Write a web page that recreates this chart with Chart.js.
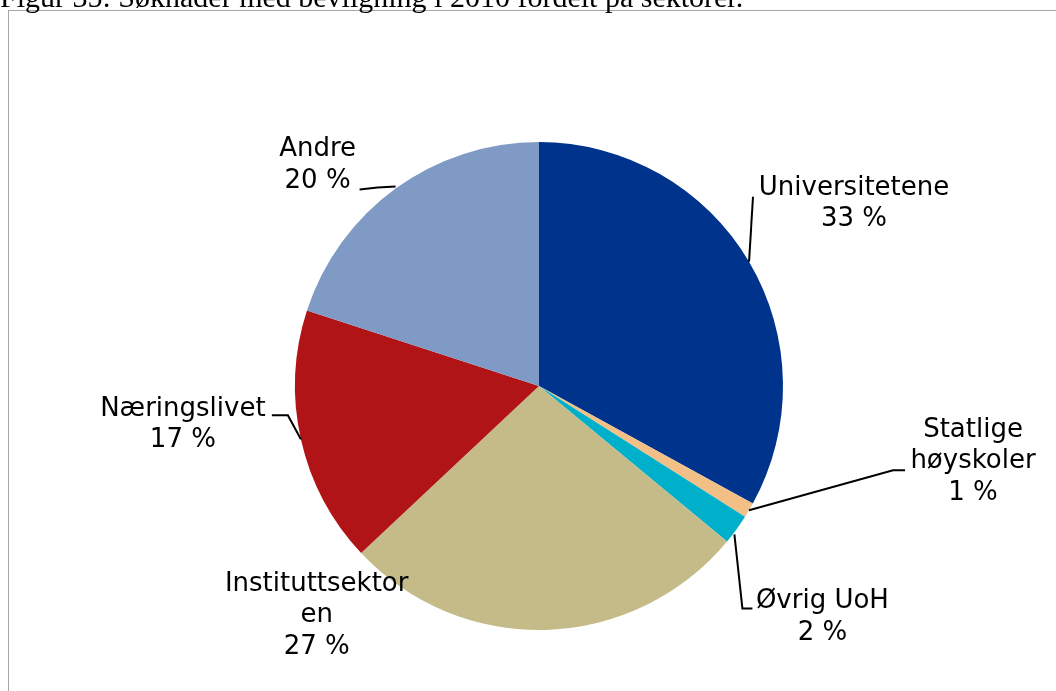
<!DOCTYPE html>
<html>
<head>
<meta charset="utf-8">
<script src="https://cdn.jsdelivr.net/npm/chart.js@4.4.1/dist/chart.umd.min.js"></script>
<style>
  body { margin: 0; background: #fff; overflow: hidden; }
  #frame {
    position: absolute; left: 8px; top: 10px; width: 1100px; height: 800px;
    border: 1px solid #a6a6a6;
  }
  #wrap { position: absolute; left: 0; top: 0; width: 1056px; height: 691px; }
</style>
</head>
<body>
<div id="frame"></div>
<div id="wrap"><canvas id="pieChart"></canvas></div>
<script>
    const figureTitle = 'Figur 35: Søknader med bevilgning i 2010 fordelt på sektorer.';
    const sectors = ['Universitetene', 'Statlige høyskoler', 'Øvrig UoH', 'Instituttsektoren', 'Næringslivet', 'Andre'];
    const sectorLines = [['Universitetene'], ['Statlige', 'høyskoler'], ['Øvrig UoH'], ['Instituttsektor', 'en'], ['Næringslivet'], ['Andre']];
    const shares = [33, 1, 2, 27, 17, 20];
    const colors = ['#00338c', '#f2c087', '#00b0ca', '#c4bb88', '#b11416', '#7f9ac5'];

    // label placement relative to the point where the slice's mid-angle meets the rim
    const labelOffset = [[105, -74], [224, -80], [86, 72], [-230, -46], [-118, -30], [-78, -39]];
    const leaderPath = [
        [[0, 0], [4, -65]],
        [[0, 0], [144, -40], [156, -40]],
        [[-2, 5], [6, 79], [16, 79]],
        [],
        [[0, 0], [-13, -24], [-29, -24]],
        [[0, -2], [-18, -1], [-36, 1]]
    ];

    const sliceLabels = {
        id: 'sliceLabels',
        afterDatasetsDraw(chart) {
            const c = chart.ctx;
            const arcs = chart.getDatasetMeta(0).data;
            c.save();
            c.font = '26px "DejaVu Sans", Verdana, sans-serif';
            c.fillStyle = '#000';
            c.strokeStyle = '#000';
            c.lineWidth = 2;
            c.textAlign = 'center';
            c.textBaseline = 'middle';
            arcs.forEach((arc, i) => {
                const mid = (arc.startAngle + arc.endAngle) / 2;
                const ex = arc.x + Math.cos(mid) * arc.outerRadius;
                const ey = arc.y + Math.sin(mid) * arc.outerRadius;
                const path = leaderPath[i];
                if (path.length) {
                    c.beginPath();
                    path.forEach((p, k) => {
                        if (k === 0) c.moveTo(ex + p[0], ey + p[1]);
                        else c.lineTo(ex + p[0], ey + p[1]);
                    });
                    c.stroke();
                }
                const lines = sectorLines[i].concat([shares[i] + ' %']);
                const tx = ex + labelOffset[i][0];
                const ty = ey + labelOffset[i][1];
                lines.forEach((t, k) => c.fillText(t, tx, ty + k * 31.5));
            });

            // caption runs off the top edge of the page
            c.font = '30px "Liberation Serif", "Times New Roman", serif';
            c.textAlign = 'left';
            c.textBaseline = 'alphabetic';
            c.fillText(figureTitle, 0, 7);
            c.restore();
        }
    };

    const ctx = document.getElementById('pieChart').getContext('2d');
    const pieChart = new Chart(ctx, {
        type: 'pie',
        data: {
            labels: sectors,
            datasets: [{
                data: shares,
                backgroundColor: colors,
                borderWidth: 0
            }]
        },
        options: {
            responsive: true,
            maintainAspectRatio: false,
            animation: false,
            layout: {
                padding: { left: 295, right: 273, top: 142, bottom: 61 }
            },
            plugins: {
                legend: { display: false },
                tooltip: { enabled: false }
            }
        },
        plugins: [sliceLabels]
    });
</script>
</body>
</html>
